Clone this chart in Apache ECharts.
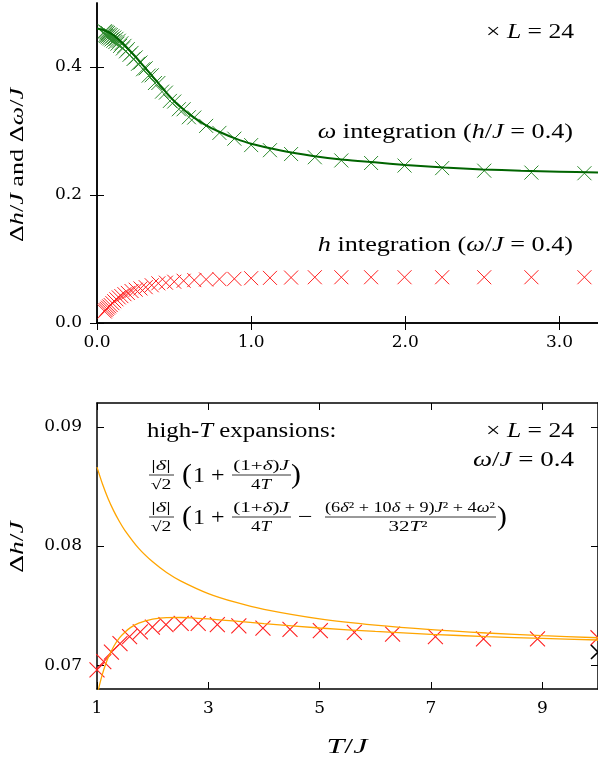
<!DOCTYPE html>
<html><head><meta charset="utf-8">
<script src="https://cdn.jsdelivr.net/npm/echarts@6/dist/echarts.min.js"></script>
<style>html,body{margin:0;padding:0;background:#fff}#c{width:598px;height:769px}</style>
</head><body><div id="c"></div><script>
// ---------- top panel data ----------
const topT = [0.050,0.056,0.063,0.071,0.079,0.089,0.100,0.112,0.126,0.141,0.158,0.178,0.200,0.224,0.251,0.282,0.316,0.355,0.398,0.447,0.501,0.562,0.631,0.708,0.794,0.891,1.000,1.122,1.259,1.413,1.585,1.778,1.995,2.239,2.512,2.818,3.162];
const omegaCross = [0.456,0.455,0.454,0.453,0.451,0.450,0.448,0.446,0.444,0.441,0.437,0.433,0.428,0.422,0.415,0.407,0.398,0.387,0.375,0.360,0.346,0.334,0.321,0.308,0.297,0.288,0.278,0.270,0.264,0.259,0.254,0.250,0.246,0.242,0.238,0.235,0.234];
const omegaCross2T = [0.053,0.060,0.067,0.075,0.084,0.094,0.106,0.119,0.133,0.150,0.168,0.188,0.211,0.237,0.266,0.299,0.335,0.376,0.422,0.473,0.531,0.596];
const omegaCross2 = [0.4495,0.4485,0.4475,0.446,0.4445,0.443,0.441,0.439,0.4365,0.433,0.429,0.4245,0.419,0.4125,0.405,0.3965,0.3865,0.375,0.3615,0.347,0.334,0.3215];
const hCross = [0.018,0.020,0.022,0.024,0.026,0.028,0.031,0.034,0.037,0.040,0.042,0.045,0.047,0.050,0.052,0.054,0.056,0.059,0.062,0.063,0.0645,0.066,0.067,0.068,0.0685,0.069,0.070,0.0705,0.071,0.0715,0.0715,0.0715,0.0715,0.0715,0.0715,0.0715,0.0715];
const omegaLineT = [0,0.05,0.1,0.15,0.2,0.25,0.3,0.35,0.4,0.45,0.5,0.55,0.6,0.7,0.8,0.9,1.0,1.2,1.4,1.6,1.8,2.0,2.25,2.5,2.75,3.0,3.25];
const omegaLine = [0.460,0.457,0.451,0.441,0.429,0.416,0.402,0.388,0.374,0.360,0.347,0.336,0.326,0.310,0.298,0.288,0.280,0.269,0.261,0.255,0.251,0.247,0.243,0.240,0.238,0.2365,0.235];
const topXTicks = [0,1,2,3];
const topYTicks = [0,0.2,0.4];
// ---------- bottom panel data ----------
const botT = [1.000,1.122,1.259,1.413,1.585,1.778,1.995,2.239,2.512,2.818,3.162,3.548,3.981,4.467,5.012,5.623,6.310,7.079,7.943,8.913,10.000];
const botCross = [0.0696,0.0703,0.0711,0.0718,0.0724,0.0728,0.0732,0.0734,0.0735,0.0735,0.0734,0.0733,0.0731,0.0730,0.0729,0.07275,0.0726,0.0724,0.0722,0.0722,0.0723];
const blackT = [10];
const blackCross = [0.0711];
const exp1T = [1,1.1,1.2,1.3,1.4,1.5,1.75,2,2.25,2.5,3,3.5,4,5,6,7,8,9,10];
const exp1 = [0.08662,0.08518,0.08397,0.08295,0.08208,0.08132,0.07980,0.07867,0.07778,0.07708,0.07601,0.07526,0.07469,0.07389,0.07336,0.07298,0.07270,0.07248,0.07230];
const exp2T = [1,1.05,1.1,1.15,1.2,1.3,1.4,1.5,1.6,1.75,2,2.25,2.5,2.75,3,3.5,4,5,6,7,8,9,10];
const exp2 = [0.06740,0.06843,0.06929,0.07001,0.07062,0.07157,0.07227,0.07277,0.07315,0.07353,0.07386,0.07399,0.07400,0.07395,0.07388,0.07369,0.07349,0.07312,0.07283,0.07259,0.07240,0.07224,0.07211];
const botXTicks = [1,3,5,7,9];
const botYTicks = [0.07,0.08,0.09];

const zip = (a,b) => a.map((v,i)=>[v,b[i]]);
const FF = '"Liberation Serif","DejaVu Serif",serif';
const FT = '"DejaVu Serif",serif';
const CROSS = 'path://M0,0L10,10M10,0L0,10';

function crossSeries(x, y, data, color, w, size){
  return {type:'scatter', xAxisIndex:x, yAxisIndex:y, data, symbol:CROSS, symbolSize:size||14,
    itemStyle:{color:color, borderColor:color, borderWidth:w||1, opacity:1}, silent:true, z:2,
    emphasis:{disabled:true}};
}
function lineSeries(x, y, data, color, w){
  return {type:'line', xAxisIndex:x, yAxisIndex:y, data, showSymbol:false, smooth:0.3, clip:true,
    lineStyle:{color, width:w}, silent:true, z:3, emphasis:{disabled:true}};
}
const axLine = {show:true, lineStyle:{color:'#000', width:1.5}};
const lbl = {fontFamily:FT, fontSize:17, color:'#000'};
function xAx(grid, min, max, ticks, fmt, pos, show){
  return {type:'value', gridIndex:grid, min, max, position:pos, axisLine:axLine, splitLine:{show:false},
    axisTick:{show:true, inside:true, length:7, lineStyle:{color:'#000', width:1}, customValues:ticks},
    axisLabel:Object.assign({show:show, margin:11, customValues:ticks, formatter:fmt}, lbl)};
}
function yAx(grid, min, max, ticks, fmt, pos, show){
  return {type:'value', gridIndex:grid, min, max, position:pos, axisLine:axLine, splitLine:{show:false},
    axisTick:{show:true, inside:true, length:7, lineStyle:{color:'#000', width:1}, customValues:ticks},
    axisLabel:Object.assign({show:show, margin:15, customValues:ticks, formatter:fmt}, lbl)};
}
const f1 = v => v.toFixed(1), f2 = v => v.toFixed(2), f0 = v => String(Math.round(v));

const R = (sz) => ({n:{fontSize:sz, fontFamily:FF, fontStyle:'normal'}, i:{fontSize:sz, fontFamily:FF, fontStyle:'italic'}});
function txt(x, y, text, sz, align, sx, extra){
  return Object.assign({type:'text', x, y, silent:true, z:100, scaleX:sx||1,
    style:{text, fill:'#000', fontSize:sz, fontFamily:FF, align:align||'center', verticalAlign:'middle', rich:R(sz)}}, extra||{});
}
function bar(x1, x2, y){
  return {type:'line', silent:true, z:100, shape:{x1, y1:y, x2, y2:y}, style:{stroke:'#000', lineWidth:0.8}};
}
function formulaHead(m){
  return [
    txt(161, m-10, '{n||}{i|δ}{n||}', 14, 'center', 1.6),
    bar(149, 174, m-1),
    txt(161, m+9, '{n|√2}', 14, 'center', 1.4),
    txt(187, m, '{n|(}', 27, 'center', 1.1),
    txt(193, m+1, '{n|1 +}', 20, 'left', 1.2),
    txt(261, m-10, '{n|(1+}{i|δ}{n|)}{i|J}', 14, 'center', 1.5),
    bar(232, 291, m-1),
    txt(261, m+9, '{n|4}{i|T}', 14, 'center', 1.35)
  ];
}
const m1 = 476, m2 = 518;
const graphics = [].concat(
  [
    txt(18, 165, '{n|Δ}{i|h}{n|/}{i|J}{n| and Δ}{i|ω}{n|/}{i|J}', 19, 'center', 1.38, {rotation:Math.PI/2}),
    txt(18, 547, '{n|Δ}{i|h}{n|/}{i|J}', 19, 'center', 1.45, {rotation:Math.PI/2}),
    txt(347, 748, '{i|T}{n|/}{i|J}', 20, 'center', 1.6),
    txt(574, 33, '{n|× }{i|L}{n| = 24}', 20, 'right', 1.28),
    txt(573, 133, '{i|ω}{n| integration (}{i|h}{n|/}{i|J}{n| = 0.4)}', 20, 'right', 1.31),
    txt(573, 246, '{i|h}{n| integration (}{i|ω}{n|/}{i|J}{n| = 0.4)}', 20, 'right', 1.31),
    txt(147, 432, '{n|high-}{i|T}{n| expansions:}', 20, 'left', 1.24),
    txt(574, 432, '{n|× }{i|L}{n| = 24}', 20, 'right', 1.28),
    txt(574, 461, '{i|ω}{n|/}{i|J}{n| = 0.4}', 20, 'right', 1.35)
  ],
  formulaHead(m1),
  [txt(296, m1, '{n|)}', 27, 'center', 1.1)],
  formulaHead(m2),
  [
    txt(305, m2, '{n|−}', 20, 'center', 1.3),
    txt(410, m2-10, '{n|(6}{i|δ}{n|² + 10}{i|δ}{n| + 9)}{i|J}{n|² + 4}{i|ω}{n|²}', 14, 'center', 1.3),
    bar(325, 496, m2-1),
    txt(408, m2+9, '{n|32}{i|T}{n|²}', 14, 'center', 1.5),
    txt(502, m2, '{n|)}', 27, 'center', 1.1)
  ]
);

const option = {
  animation:false,
  backgroundColor:'#fff',
  grid:[{left:97, top:3, width:504, height:320}, {left:97, top:403, width:504, height:286}],
  xAxis:[
    xAx(0, 0, 3.25, topXTicks, f1, 'bottom', true),
    xAx(0, 0, 3.25, topXTicks, f1, 'top', false),
    xAx(1, 1, 10, botXTicks, f0, 'bottom', true),
    xAx(1, 1, 10, botXTicks, f0, 'top', false)
  ],
  yAxis:[
    yAx(0, 0, 0.5, topYTicks, f1, 'left', true),
    yAx(0, 0, 0.5, topYTicks, f1, 'right', false),
    yAx(1, 0.068, 0.092, botYTicks, f2, 'left', true),
    yAx(1, 0.068, 0.092, botYTicks, f2, 'right', false)
  ],
  series:[
    crossSeries(0, 0, zip(topT, omegaCross), '#2e8b2e', 1, 14),
    crossSeries(0, 0, zip(omegaCross2T, omegaCross2), '#2e8b2e', 1, 14),
    crossSeries(0, 0, zip(topT, hCross), '#ff2020', 1, 14),
    lineSeries(0, 0, zip(omegaLineT, omegaLine), '#006400', 2),
    crossSeries(2, 2, zip(botT, botCross), '#ff2020', 1.1, 15),
    crossSeries(2, 2, zip(blackT, blackCross), '#000000', 1.6, 14),
    lineSeries(2, 2, zip(exp1T, exp1), '#ffa500', 1.3),
    lineSeries(2, 2, zip(exp2T, exp2), '#ffa500', 1.3)
  ],
  graphic:graphics
};
const chart = echarts.init(document.getElementById('c'), null, {renderer:'canvas'});
chart.setOption(option);
</script></body></html>
